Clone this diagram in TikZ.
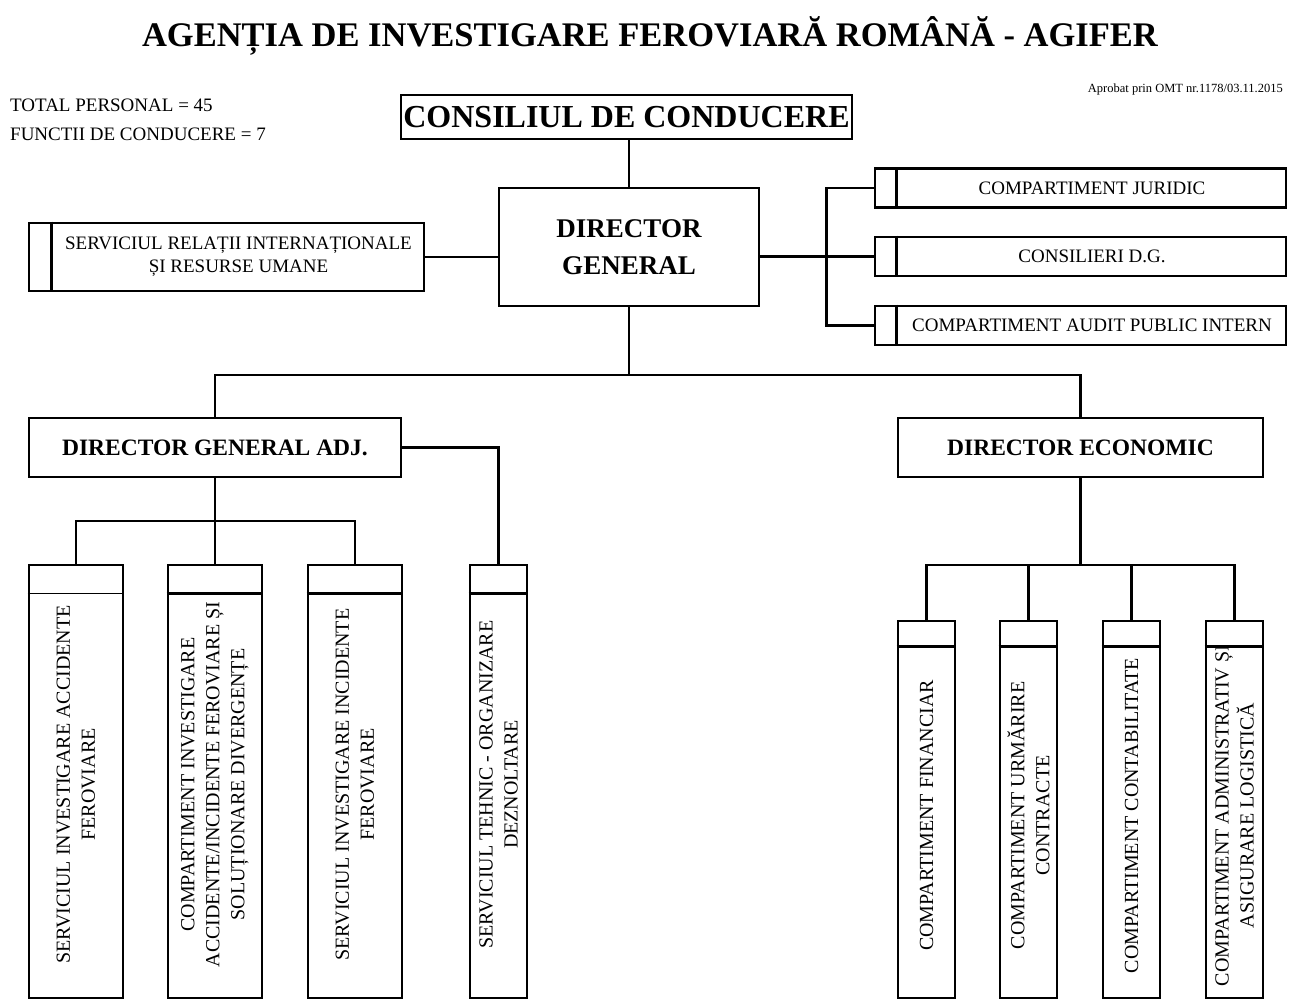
\documentclass[tikz,border=0pt]{standalone}
\usepackage{fontspec}
\setmainfont{LiberationSerif}[Extension=.ttf,UprightFont=*-Regular,BoldFont=*-Bold,ItalicFont=*-Italic,BoldItalicFont=*-BoldItalic]
\tikzset{
  box/.style={draw,line width=2.6pt,fill=white,inner sep=0pt},
  con/.style={line width=2.6pt},
  titlu/.style={font=\bfseries\fontsize{34.5}{40}\selectfont},
  sef/.style={font=\bfseries\fontsize{27}{37}\selectfont,align=center},
  director/.style={font=\bfseries\fontsize{23.5}{28}\selectfont},
  txt/.style={font=\fontsize{19}{23}\selectfont,align=center,inner sep=0pt},
  coltxt/.style={font=\fontsize{20}{25}\selectfont,align=center,inner sep=0pt},
  mic/.style={font=\fontsize{12.5}{15}\selectfont,inner sep=0pt}
}

\begin{document}
\begin{tikzpicture}[x=1pt,y=-1pt]
  \useasboundingbox[fill=white] (0,0) rectangle (1301,1001);
  % antet
  \node[titlu,anchor=base] (titlu) at (650,46) {AGENȚIA DE INVESTIGARE FEROVIARĂ ROMÂNĂ - AGIFER};
  \node[txt,anchor=base west] (total) at (10,111) {TOTAL PERSONAL = 45};
  \node[txt,anchor=base west] (functii) at (10,140) {FUNCTII DE CONDUCERE = 7};
  \node[mic,anchor=base east] (aprobat) at (1283,92) {Aprobat prin OMT nr.1178/03.11.2015};

  % conducere
  \node[box,font=\bfseries\fontsize{32}{38}\selectfont,minimum width=451,minimum height=44] (cc) at (626.5,117) {CONSILIUL DE CONDUCERE};
  \node[box,sef,minimum width=260,minimum height=118] (dg) at (629,247) {DIRECTOR\\GENERAL};
  \node[box,director,minimum width=372,minimum height=59] (dga) at (215,447.5) {DIRECTOR GENERAL ADJ.};
  \node[box,director,minimum width=365,minimum height=59] (de) at (1080.5,447.5) {DIRECTOR ECONOMIC};

  % compartimente cu bara laterala
  \node[box,minimum width=395,minimum height=68] (sri) at (226.5,257) {};
  \node[txt] at ([xshift=12]sri.center) {SERVICIUL RELAȚII INTERNAȚIONALE\\ȘI RESURSE UMANE};
  \draw[con] ([xshift=24]sri.north west) -- ([xshift=24]sri.south west);
  \foreach \n/\y/\t in {jur/188/COMPARTIMENT JURIDIC,cons/256.5/CONSILIERI D.G.,aud/325.5/COMPARTIMENT AUDIT PUBLIC INTERN} {
    \node[box,minimum width=411,minimum height=39] (\n) at (1080.5,\y) {};
    \node[txt] at ([xshift=11.5]\n.center) {\t};
    \draw[con] ([xshift=23]\n.north west) -- ([xshift=23]\n.south west);
  }

  % servicii verticale
  \foreach \n/\x/\w/\lw/\t in {sia/76/94/1.4pt/{SERVICIUL INVESTIGARE ACCIDENTE\\FEROVIARE},
      cia/215/94/2.6pt/{COMPARTIMENT INVESTIGARE\\ACCIDENTE/INCIDENTE FEROVIARE ȘI\\SOLUȚIONARE DIVERGENȚE},
      sii/355/94/2.6pt/{SERVICIUL INVESTIGARE INCIDENTE\\FEROVIARE},
      stod/498.5/57/2.6pt/{SERVICIUL TEHNIC - ORGANIZARE\\DEZNOLTARE}} {
    \node[box,minimum width=\w,minimum height=433] (\n) at (\x,781.5) {};
    \draw[line width=\lw] ([yshift=-30]\n.north west) -- ([yshift=-30]\n.north east);
    \node[coltxt,rotate=90] at ([yshift=-3]\n.center) {\t};
  }
  \foreach \n/\x/\t in {cf/926.5/{COMPARTIMENT FINANCIAR},
      cuc/1028.5/{COMPARTIMENT URMĂRIRE\\CONTRACTE},
      ccb/1131.5/{COMPARTIMENT CONTABILITATE},
      cal/1234.5/{COMPARTIMENT ADMINISTRATIV ȘI\\ASIGURARE LOGISTICĂ}} {
    \node[box,minimum width=57,minimum height=377] (\n) at (\x,809.5) {};
    \draw[con] ([yshift=-27]\n.north west) -- ([yshift=-27]\n.north east);
    \node[coltxt,rotate=90] at ([yshift=-6]\n.center) {\t};
  }

  % legaturi
  \draw[con] (dg.north) -- (dg.north |- cc.south);
  \draw[con] (sri.east) -- (sri.east -| dg.west);
  \draw[con] (cons.west) -- (cons.west -| dg.east);
  \draw[con] (jur.west) -- ++(-47,0) |- (aud.west);
  \coordinate (bus) at (629,375);
  \draw[con] (dg.south) -- (bus);
  \draw[con] (dga.north) |- (bus) -| (de.north);
  \coordinate (busadj) at (215,521);
  \draw[con] (dga.south) -- (busadj);
  \draw[con] (sia.north) |- (busadj) -| (sii.north);
  \draw[con] (cia.north) -- (busadj);
  \draw[con] (dga.east) -| (stod.north);
  \coordinate (busec) at (1080.5,565);
  \draw[con] (de.south) -- (busec);
  \draw[con] (cf.north) |- (busec) -| (cal.north);
  \draw[con] (cuc.north) -- (cuc.north |- busec);
  \draw[con] (ccb.north) -- (ccb.north |- busec);
\end{tikzpicture}
\end{document}
